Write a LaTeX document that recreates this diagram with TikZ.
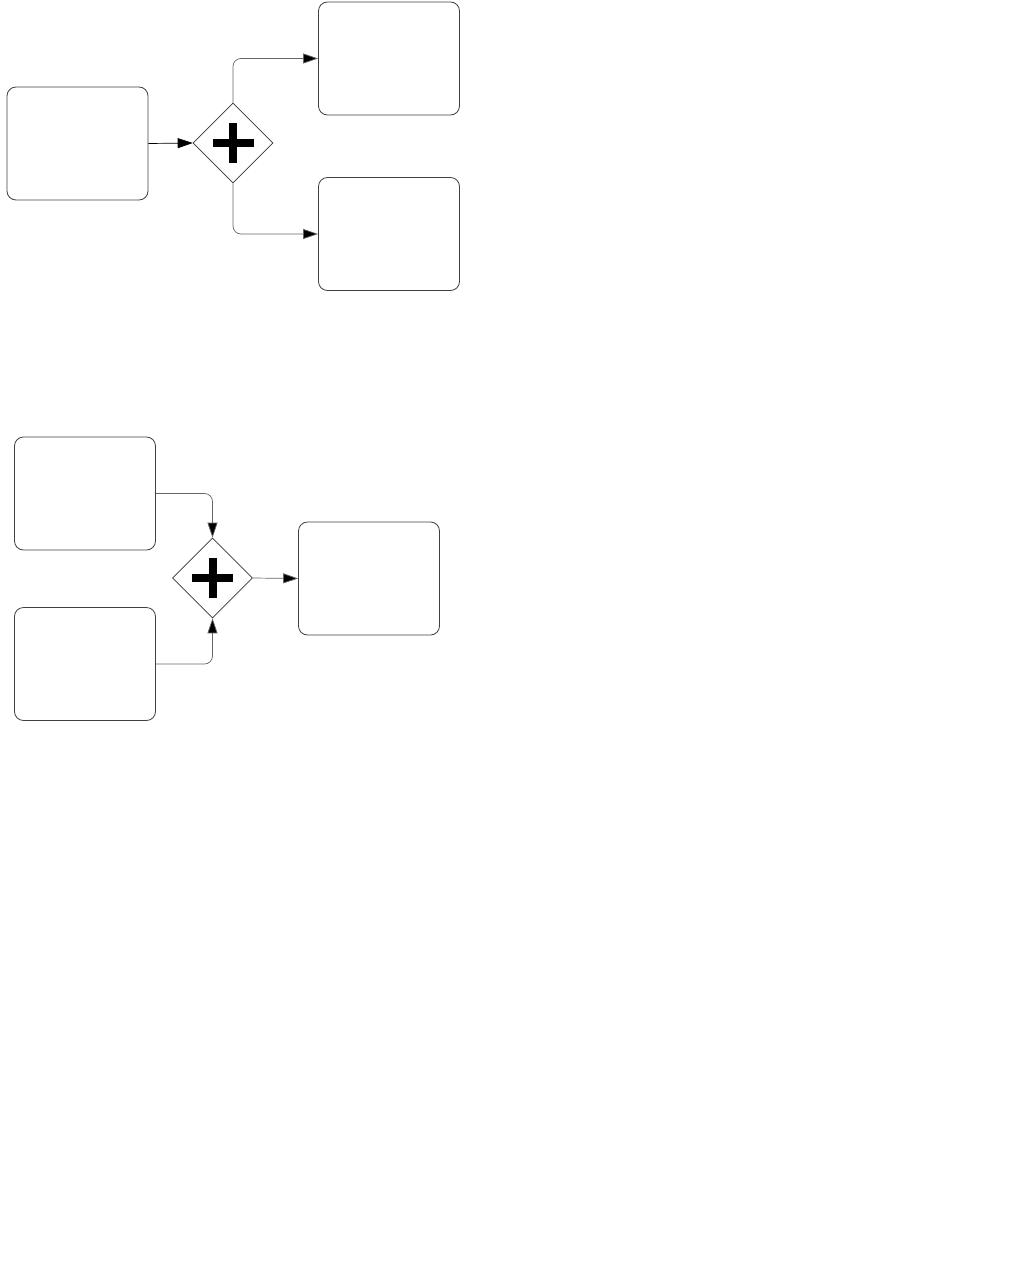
\documentclass[tikz,border=0pt]{standalone}
\usetikzlibrary{shapes.geometric,arrows.meta}
\begin{document}
\begin{tikzpicture}[x=1pt,y=-1pt,
  task/.style={draw=black!75,line width=0.8pt,rounded corners=9pt,minimum width=141pt,minimum height=113pt,inner sep=0pt},
  gate/.style={draw=black!80,line width=0.6pt,diamond,minimum width=80pt,minimum height=80pt,inner sep=0pt},
  flow/.style={draw=black!60,line width=0.7pt,-{Triangle[length=15pt,width=10pt,fill=black]},rounded corners=8pt},
  plusbar/.style={fill=black,draw=none}]
\useasboundingbox (0,0) rectangle (1009,1266);
% top
\node[task] (A) at (77.5,143.5) {};
\node[gate] (G1) at (233,143) {};
\node[task] (B) at (389,58.5) {};
\node[task] (C) at (389,234) {};
\fill[plusbar] (212.5,139) rectangle (254,147);
\fill[plusbar] (229,122.5) rectangle (237,163);
\draw[flow,draw=black] (A.east) -- (G1.west);
\draw[flow] (G1.north) |- (B.west);
\draw[flow] (G1.south) |- (C.west);
% bottom
\node[task] (D) at (85,493.5) {};
\node[task] (E) at (85,664) {};
\node[gate] (G2) at (212.5,578) {};
\node[task] (F) at (369,578.5) {};
\fill[plusbar] (192,574) rectangle (233,582);
\fill[plusbar] (208.5,558) rectangle (216.5,598);
\draw[flow] (D.east) -| (G2.north);
\draw[flow] (E.east) -| (G2.south);
\draw[flow] (G2.east) -- (F.west);
\end{tikzpicture}
\end{document}
